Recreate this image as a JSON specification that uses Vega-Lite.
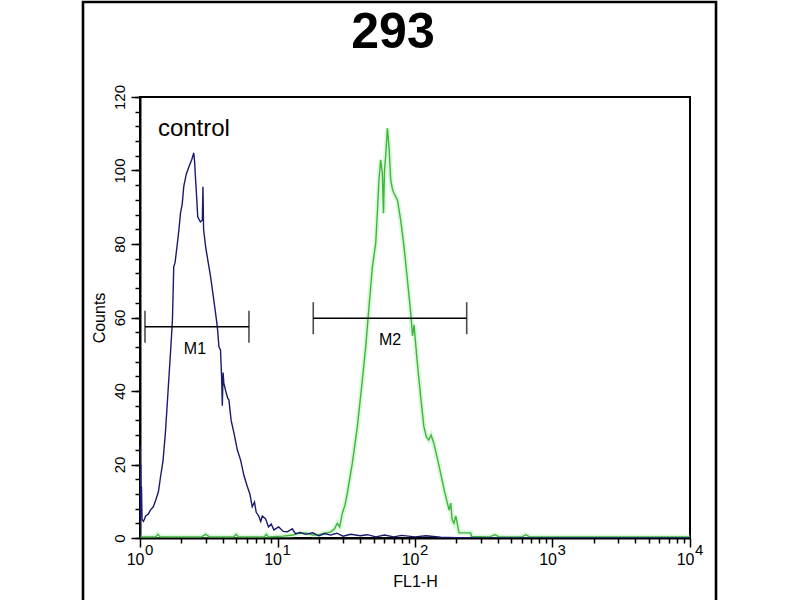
{
  "$schema": "https://vega.github.io/schema/vega-lite/v6.json",
  "width": 550,
  "height": 441,
  "autosize": {"type": "none"},
  "padding": {"left": 140, "top": 97, "right": 110, "bottom": 62},
  "background": "white",
  "title": {"text": "293", "fontSize": 50, "fontWeight": "bold", "font": "Liberation Sans", "color": "black", "anchor": "middle", "frame": "group", "dx": -22, "offset": -57},
  "config": {
    "font": "Liberation Sans",
    "view": {"stroke": "black", "strokeWidth": 2},
    "axis": {"grid": false, "tickColor": "black", "domainColor": "black", "labelColor": "black", "titleColor": "black"},
    "axisX": {"labelFontSize": 16, "titleFontSize": 16},
    "axisY": {"labelFontSize": 15, "titleFontSize": 16}
  },
  "datasets": {
    "histogram": [
      {"sample": "control", "fl1h": 1, "count": 0},
      {"sample": "control", "fl1h": 1.004, "count": 25},
      {"sample": "control", "fl1h": 1.008, "count": 8},
      {"sample": "control", "fl1h": 1.012, "count": 20},
      {"sample": "control", "fl1h": 1.018, "count": 6},
      {"sample": "control", "fl1h": 1.025, "count": 14},
      {"sample": "control", "fl1h": 1.035, "count": 5},
      {"sample": "control", "fl1h": 1.06, "count": 4.5},
      {"sample": "control", "fl1h": 1.1, "count": 6},
      {"sample": "control", "fl1h": 1.15, "count": 6.5},
      {"sample": "control", "fl1h": 1.19, "count": 7.6},
      {"sample": "control", "fl1h": 1.25, "count": 8.5},
      {"sample": "control", "fl1h": 1.3, "count": 10.3},
      {"sample": "control", "fl1h": 1.36, "count": 12.5},
      {"sample": "control", "fl1h": 1.41, "count": 16.6},
      {"sample": "control", "fl1h": 1.47, "count": 21},
      {"sample": "control", "fl1h": 1.53, "count": 28.6},
      {"sample": "control", "fl1h": 1.6, "count": 40},
      {"sample": "control", "fl1h": 1.67, "count": 51},
      {"sample": "control", "fl1h": 1.72, "count": 59},
      {"sample": "control", "fl1h": 1.76, "count": 73.8},
      {"sample": "control", "fl1h": 1.8, "count": 75},
      {"sample": "control", "fl1h": 1.87, "count": 80.2},
      {"sample": "control", "fl1h": 1.92, "count": 84},
      {"sample": "control", "fl1h": 1.97, "count": 88.4},
      {"sample": "control", "fl1h": 2.03, "count": 91},
      {"sample": "control", "fl1h": 2.08, "count": 95.6},
      {"sample": "control", "fl1h": 2.17, "count": 99},
      {"sample": "control", "fl1h": 2.27, "count": 101},
      {"sample": "control", "fl1h": 2.38, "count": 103},
      {"sample": "control", "fl1h": 2.46, "count": 104.8},
      {"sample": "control", "fl1h": 2.5, "count": 102},
      {"sample": "control", "fl1h": 2.53, "count": 98.3},
      {"sample": "control", "fl1h": 2.58, "count": 93},
      {"sample": "control", "fl1h": 2.63, "count": 87.4},
      {"sample": "control", "fl1h": 2.75, "count": 86},
      {"sample": "control", "fl1h": 2.84, "count": 86.5},
      {"sample": "control", "fl1h": 2.87, "count": 95.6},
      {"sample": "control", "fl1h": 2.9, "count": 84},
      {"sample": "control", "fl1h": 3.0, "count": 79.3},
      {"sample": "control", "fl1h": 3.1, "count": 76},
      {"sample": "control", "fl1h": 3.26, "count": 71.1},
      {"sample": "control", "fl1h": 3.44, "count": 64.8},
      {"sample": "control", "fl1h": 3.55, "count": 61},
      {"sample": "control", "fl1h": 3.65, "count": 57.5},
      {"sample": "control", "fl1h": 3.75, "count": 52},
      {"sample": "control", "fl1h": 3.85, "count": 51.2},
      {"sample": "control", "fl1h": 3.92, "count": 44},
      {"sample": "control", "fl1h": 3.97, "count": 36},
      {"sample": "control", "fl1h": 4.02, "count": 45},
      {"sample": "control", "fl1h": 4.07, "count": 42.2},
      {"sample": "control", "fl1h": 4.2, "count": 40},
      {"sample": "control", "fl1h": 4.35, "count": 38},
      {"sample": "control", "fl1h": 4.43, "count": 37.6},
      {"sample": "control", "fl1h": 4.6, "count": 32},
      {"sample": "control", "fl1h": 4.82, "count": 28.6},
      {"sample": "control", "fl1h": 5.1, "count": 24},
      {"sample": "control", "fl1h": 5.39, "count": 21.2},
      {"sample": "control", "fl1h": 5.7, "count": 17},
      {"sample": "control", "fl1h": 6.03, "count": 14},
      {"sample": "control", "fl1h": 6.3, "count": 12},
      {"sample": "control", "fl1h": 6.55, "count": 8.5},
      {"sample": "control", "fl1h": 6.8, "count": 9.8},
      {"sample": "control", "fl1h": 7.0, "count": 7},
      {"sample": "control", "fl1h": 7.3, "count": 6},
      {"sample": "control", "fl1h": 7.55, "count": 4.5},
      {"sample": "control", "fl1h": 7.75, "count": 6},
      {"sample": "control", "fl1h": 8.2, "count": 5.2},
      {"sample": "control", "fl1h": 8.6, "count": 3},
      {"sample": "control", "fl1h": 9.0, "count": 3.8},
      {"sample": "control", "fl1h": 9.42, "count": 2.2},
      {"sample": "control", "fl1h": 10.2, "count": 3},
      {"sample": "control", "fl1h": 11, "count": 1.8},
      {"sample": "control", "fl1h": 11.8, "count": 1.7},
      {"sample": "control", "fl1h": 12.8, "count": 2.5},
      {"sample": "control", "fl1h": 13.5, "count": 1.2},
      {"sample": "control", "fl1h": 14.7, "count": 1.5},
      {"sample": "control", "fl1h": 16, "count": 1},
      {"sample": "control", "fl1h": 18, "count": 1.4},
      {"sample": "control", "fl1h": 20, "count": 0.6},
      {"sample": "control", "fl1h": 22, "count": 1.2},
      {"sample": "control", "fl1h": 24.3, "count": 0.8},
      {"sample": "control", "fl1h": 27, "count": 1.3},
      {"sample": "control", "fl1h": 30, "count": 0.5},
      {"sample": "control", "fl1h": 34, "count": 1},
      {"sample": "control", "fl1h": 40, "count": 0.6},
      {"sample": "control", "fl1h": 45, "count": 0.9},
      {"sample": "control", "fl1h": 52, "count": 0.3},
      {"sample": "control", "fl1h": 60, "count": 0.8},
      {"sample": "control", "fl1h": 70, "count": 0.3},
      {"sample": "control", "fl1h": 80, "count": 0.7},
      {"sample": "control", "fl1h": 100, "count": 0.3},
      {"sample": "control", "fl1h": 120, "count": 0.6},
      {"sample": "control", "fl1h": 154, "count": 0.2},
      {"sample": "control", "fl1h": 200, "count": 0.1},
      {"sample": "control", "fl1h": 300, "count": 0},
      {"sample": "control", "fl1h": 10000, "count": 0},
      {"sample": "293", "fl1h": 1, "count": 0.3},
      {"sample": "293", "fl1h": 1.3, "count": 0.3},
      {"sample": "293", "fl1h": 1.35, "count": 1},
      {"sample": "293", "fl1h": 1.4, "count": 0.3},
      {"sample": "293", "fl1h": 2.8, "count": 0.3},
      {"sample": "293", "fl1h": 3.0, "count": 1},
      {"sample": "293", "fl1h": 3.2, "count": 0.3},
      {"sample": "293", "fl1h": 4.8, "count": 0.3},
      {"sample": "293", "fl1h": 5.0, "count": 1},
      {"sample": "293", "fl1h": 5.2, "count": 0.3},
      {"sample": "293", "fl1h": 8.0, "count": 0.3},
      {"sample": "293", "fl1h": 8.3, "count": 1},
      {"sample": "293", "fl1h": 8.6, "count": 0.3},
      {"sample": "293", "fl1h": 11, "count": 0.5},
      {"sample": "293", "fl1h": 13, "count": 0.8},
      {"sample": "293", "fl1h": 14, "count": 1.2},
      {"sample": "293", "fl1h": 16, "count": 1.4},
      {"sample": "293", "fl1h": 18, "count": 0.8},
      {"sample": "293", "fl1h": 20, "count": 0.9},
      {"sample": "293", "fl1h": 22, "count": 1.3},
      {"sample": "293", "fl1h": 24.3, "count": 1.6},
      {"sample": "293", "fl1h": 26, "count": 2.5},
      {"sample": "293", "fl1h": 27.2, "count": 4},
      {"sample": "293", "fl1h": 28.3, "count": 3},
      {"sample": "293", "fl1h": 29.6, "count": 6.7},
      {"sample": "293", "fl1h": 31, "count": 9},
      {"sample": "293", "fl1h": 32.2, "count": 12.2},
      {"sample": "293", "fl1h": 35, "count": 20.3},
      {"sample": "293", "fl1h": 38.1, "count": 30.3},
      {"sample": "293", "fl1h": 41.4, "count": 43},
      {"sample": "293", "fl1h": 43.8, "count": 52},
      {"sample": "293", "fl1h": 46.3, "count": 63},
      {"sample": "293", "fl1h": 49, "count": 73.8},
      {"sample": "293", "fl1h": 51.8, "count": 80.2},
      {"sample": "293", "fl1h": 53.2, "count": 88.4},
      {"sample": "293", "fl1h": 54.7, "count": 97.4},
      {"sample": "293", "fl1h": 56.3, "count": 102.9},
      {"sample": "293", "fl1h": 57.9, "count": 99.3},
      {"sample": "293", "fl1h": 59, "count": 88.4},
      {"sample": "293", "fl1h": 60, "count": 100},
      {"sample": "293", "fl1h": 61.2, "count": 103.8},
      {"sample": "293", "fl1h": 63, "count": 111.5},
      {"sample": "293", "fl1h": 64.7, "count": 106.5},
      {"sample": "293", "fl1h": 66.6, "count": 97.4},
      {"sample": "293", "fl1h": 68.5, "count": 95},
      {"sample": "293", "fl1h": 70.3, "count": 93.8},
      {"sample": "293", "fl1h": 74.5, "count": 92},
      {"sample": "293", "fl1h": 78.7, "count": 86.5},
      {"sample": "293", "fl1h": 83.2, "count": 79.3},
      {"sample": "293", "fl1h": 88.1, "count": 70.2},
      {"sample": "293", "fl1h": 93.1, "count": 61.2},
      {"sample": "293", "fl1h": 96, "count": 55},
      {"sample": "293", "fl1h": 98.4, "count": 58},
      {"sample": "293", "fl1h": 101, "count": 53},
      {"sample": "293", "fl1h": 104, "count": 47.6},
      {"sample": "293", "fl1h": 110, "count": 38.4},
      {"sample": "293", "fl1h": 116, "count": 30.3},
      {"sample": "293", "fl1h": 121, "count": 27.5},
      {"sample": "293", "fl1h": 126, "count": 26.7},
      {"sample": "293", "fl1h": 131, "count": 28},
      {"sample": "293", "fl1h": 137, "count": 25.8},
      {"sample": "293", "fl1h": 150, "count": 19.4},
      {"sample": "293", "fl1h": 163, "count": 13.1},
      {"sample": "293", "fl1h": 177, "count": 7.6},
      {"sample": "293", "fl1h": 182, "count": 9.5},
      {"sample": "293", "fl1h": 186, "count": 5},
      {"sample": "293", "fl1h": 192, "count": 4},
      {"sample": "293", "fl1h": 198, "count": 6},
      {"sample": "293", "fl1h": 209, "count": 1.4},
      {"sample": "293", "fl1h": 254, "count": 1.4},
      {"sample": "293", "fl1h": 258, "count": 0.4},
      {"sample": "293", "fl1h": 350, "count": 0.3},
      {"sample": "293", "fl1h": 380, "count": 0.9},
      {"sample": "293", "fl1h": 410, "count": 0.3},
      {"sample": "293", "fl1h": 600, "count": 0.3},
      {"sample": "293", "fl1h": 640, "count": 0.9},
      {"sample": "293", "fl1h": 680, "count": 0.3},
      {"sample": "293", "fl1h": 10000, "count": 0.3}
    ],
    "gates": [
      {"gate": "M1", "from": 1.087, "to": 6.2, "level": 57.5, "center": 2.51},
      {"gate": "M2", "from": 18.2, "to": 237.7, "level": 59.8, "center": 65.8}
    ],
    "notes": [
      {"label": "control", "fl1h": 1.35, "count": 109.3}
    ],
    "decades": [
      {"decade": 1, "exponent": "0"},
      {"decade": 10, "exponent": "1"},
      {"decade": 100, "exponent": "2"},
      {"decade": 1000, "exponent": "3"},
      {"decade": 10000, "exponent": "4"}
    ]
  },
  "resolve": {"axis": {"x": "independent", "y": "independent"}},
  "layer": [
    {
      "data": {"values": [{"frame": "outer"}]},
      "mark": {"type": "rect", "fill": null, "stroke": "black", "strokeWidth": 2.6, "clip": false},
      "encoding": {
        "x": {"datum": 0.385, "type": "quantitative", "axis": null},
        "x2": {"datum": 15460},
        "y": {"datum": 145.85, "type": "quantitative", "axis": null},
        "y2": {"datum": -21}
      }
    },
    {
      "data": {"name": "histogram"},
      "transform": [{"filter": "datum.sample === '293'"}],
      "mark": {"type": "line", "color": "#9be89b", "strokeWidth": 5, "opacity": 0.35, "clip": true},
      "encoding": {
        "x": {"field": "fl1h", "type": "quantitative", "scale": {"type": "log", "domain": [1, 10000], "nice": false}, "axis": null},
        "y": {"field": "count", "type": "quantitative", "scale": {"domain": [0, 120], "nice": false, "zero": false}, "axis": null},
        "order": {"field": "fl1h", "type": "quantitative"}
      }
    },
    {
      "data": {"name": "histogram"},
      "transform": [{"filter": "datum.sample === '293'"}],
      "mark": {"type": "line", "color": "#3fb53f", "strokeWidth": 1.4, "clip": true},
      "encoding": {
        "x": {"field": "fl1h", "type": "quantitative", "axis": null},
        "y": {"field": "count", "type": "quantitative", "axis": null},
        "order": {"field": "fl1h", "type": "quantitative"}
      }
    },
    {
      "data": {"name": "histogram"},
      "transform": [{"filter": "datum.sample === 'control'"}],
      "mark": {"type": "line", "color": "#1a1a6e", "strokeWidth": 1.4, "clip": true},
      "encoding": {
        "x": {
          "field": "fl1h", "type": "quantitative",
          "axis": {
            "orient": "bottom", "values": [1, 10, 100, 1000, 10000], "labelExpr": "'10'",
            "labelAlign": "right", "labelOffset": 4, "labelFlush": false, "labelBaseline": "top",
            "labelPadding": 4, "labelFontSize": 16, "tickSize": 9, "tickWidth": 1.5,
            "domainWidth": 2, "title": "FL1-H", "titleFontSize": 16, "titleFontWeight": "normal",
            "titlePadding": 6
          }
        },
        "y": {
          "field": "count", "type": "quantitative",
          "axis": {
            "orient": "left", "values": [0, 20, 40, 60, 80, 100, 120], "labelAngle": -90,
            "labelAlign": "center", "labelBaseline": "bottom", "labelPadding": 4, "labelFontSize": 15,
            "tickSize": 9, "tickWidth": 1.5, "domainWidth": 2, "title": "Counts",
            "titleFontSize": 16, "titleFontWeight": "normal", "titlePadding": 5
          }
        },
        "order": {"field": "fl1h", "type": "quantitative"}
      }
    },
    {
      "data": {"name": "gates"},
      "mark": {"type": "rule", "color": "black", "strokeWidth": 1.6},
      "encoding": {
        "x": {
          "field": "from", "type": "quantitative",
          "axis": {
            "orient": "bottom", "values": [2, 3, 4, 5, 6, 7, 8, 9, 20, 30, 40, 50, 60, 70, 80, 90, 200, 300, 400, 500, 600, 700, 800, 900, 2000, 3000, 4000, 5000, 6000, 7000, 8000, 9000],
            "labels": false, "domain": false, "tickSize": 5, "tickWidth": 1.5, "title": null
          }
        },
        "x2": {"field": "to"},
        "y": {
          "field": "level", "type": "quantitative",
          "axis": {
            "orient": "left", "values": [0, 4, 8, 12, 16, 20, 24, 28, 32, 36, 40, 44, 48, 52, 56, 60, 64, 68, 72, 76, 80, 84, 88, 92, 96, 100, 104, 108, 112, 116, 120],
            "labels": false, "domain": false, "tickSize": 5, "tickWidth": 1.5, "title": null
          }
        }
      }
    },
    {
      "data": {"name": "gates"},
      "mark": {"type": "tick", "orient": "vertical", "color": "black", "size": 32, "thickness": 1.6},
      "encoding": {
        "x": {"field": "from", "type": "quantitative", "axis": null},
        "y": {"field": "level", "type": "quantitative", "axis": null}
      }
    },
    {
      "data": {"name": "gates"},
      "mark": {"type": "tick", "orient": "vertical", "color": "black", "size": 32, "thickness": 1.6},
      "encoding": {
        "x": {"field": "to", "type": "quantitative", "axis": null},
        "y": {"field": "level", "type": "quantitative", "axis": null}
      }
    },
    {
      "data": {"name": "gates"},
      "mark": {"type": "text", "color": "black", "fontSize": 16, "baseline": "middle", "align": "center", "dy": 22},
      "encoding": {
        "x": {"field": "center", "type": "quantitative", "axis": null},
        "y": {"field": "level", "type": "quantitative", "axis": null},
        "text": {"field": "gate"}
      }
    },
    {
      "data": {"name": "notes"},
      "mark": {"type": "text", "color": "black", "fontSize": 24, "baseline": "alphabetic", "align": "left"},
      "encoding": {
        "x": {"field": "fl1h", "type": "quantitative", "axis": null},
        "y": {"field": "count", "type": "quantitative", "axis": null},
        "text": {"field": "label"}
      }
    },
    {
      "data": {"name": "decades"},
      "mark": {"type": "text", "color": "black", "fontSize": 15, "baseline": "top", "align": "left", "dx": 5, "dy": 5, "clip": false},
      "encoding": {
        "x": {"field": "decade", "type": "quantitative", "axis": null},
        "y": {"datum": 0, "type": "quantitative", "axis": null},
        "text": {"field": "exponent"}
      }
    }
  ]
}
